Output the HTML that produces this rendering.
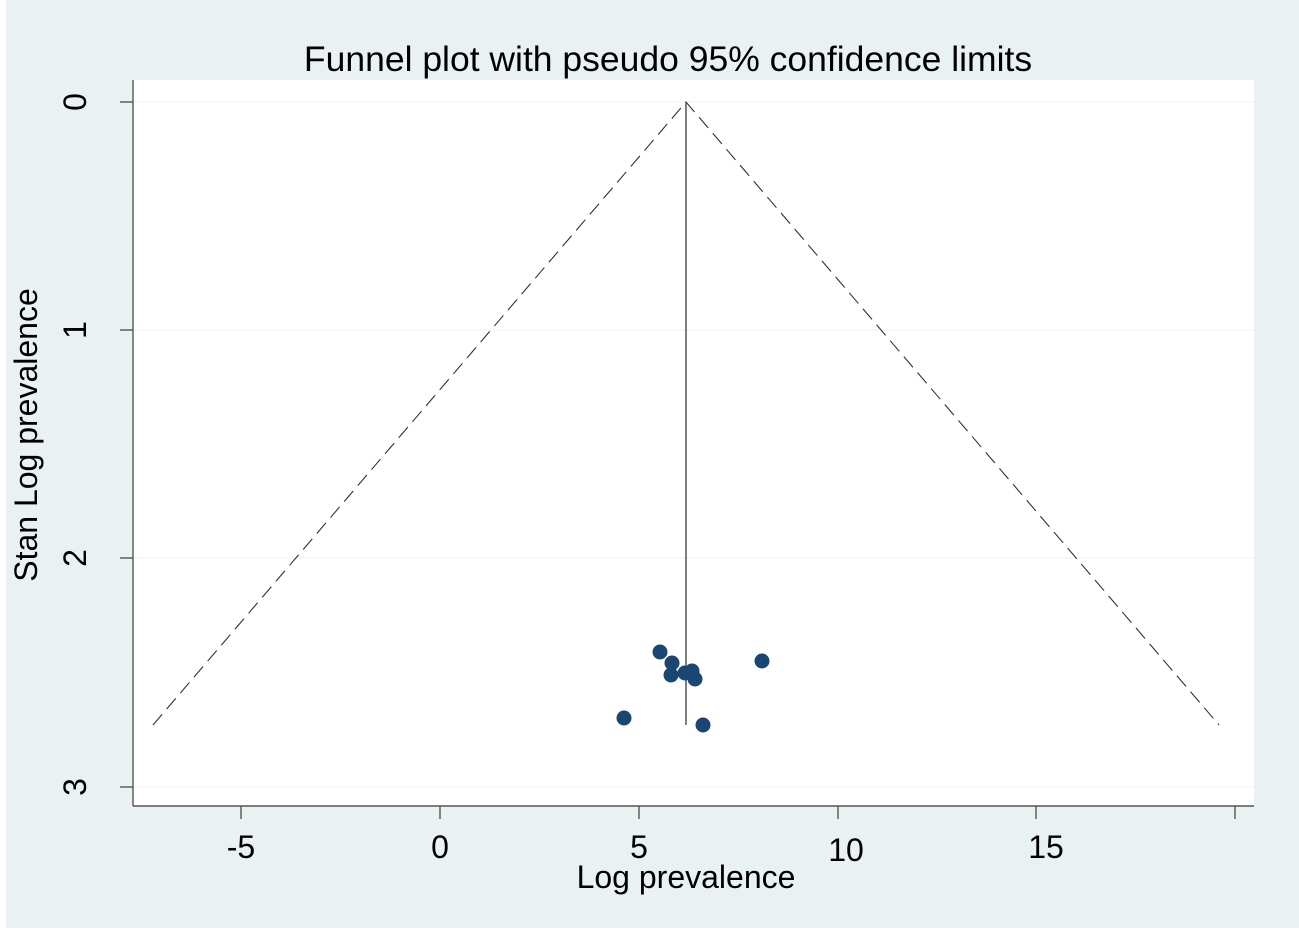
<!DOCTYPE html>
<html><head><style>body{margin:0;background:#fff}</style></head><body>
<svg width="1299" height="930" xmlns="http://www.w3.org/2000/svg" font-family="Liberation Sans, sans-serif">
<rect x="6" y="0" width="1293" height="928" fill="#eaf1f3"/>
<rect x="133" y="80" width="1121" height="726" fill="#fff"/>
<g stroke="#eef3f5" stroke-width="1">
<line x1="133" y1="102" x2="1254" y2="102"/><line x1="133" y1="330" x2="1254" y2="330"/>
<line x1="133" y1="558" x2="1254" y2="558"/><line x1="133" y1="787" x2="1254" y2="787"/>
</g>
<g stroke="#555" stroke-width="1.4" fill="none">
<line x1="133" y1="80" x2="133" y2="806"/><line x1="133" y1="806" x2="1254" y2="806"/>
<line x1="120" y1="102" x2="133" y2="102"/><line x1="120" y1="330" x2="133" y2="330"/>
<line x1="120" y1="558" x2="133" y2="558"/><line x1="120" y1="787" x2="133" y2="787"/>
<line x1="241" y1="806" x2="241" y2="819"/><line x1="440" y1="806" x2="440" y2="819"/>
<line x1="639" y1="806" x2="639" y2="819"/><line x1="838" y1="806" x2="838" y2="819"/>
<line x1="1036" y1="806" x2="1036" y2="819"/><line x1="1235" y1="806" x2="1235" y2="819"/>
</g>
<polyline points="153,725 686,102 1219,725" fill="none" stroke="#333" stroke-width="1.1" stroke-dasharray="14,7"/>
<line x1="686" y1="102" x2="686" y2="725" stroke="#555" stroke-width="1.5"/>
<g fill="#1a4674">
<circle cx="660" cy="652" r="7.5"/><circle cx="672" cy="663" r="7.5"/><circle cx="671" cy="675" r="7.5"/>
<circle cx="685" cy="673" r="7.5"/><circle cx="692" cy="671" r="7.5"/><circle cx="695" cy="679" r="7.5"/>
<circle cx="762" cy="661" r="7.5"/><circle cx="624" cy="718" r="7.5"/><circle cx="703" cy="725" r="7.5"/>
</g>
<g font-size="32" fill="#000" text-anchor="middle">
<text x="668" y="71" font-size="35.5">Funnel plot with pseudo 95% confidence limits</text>
<text x="241" y="858">-5</text><text x="440" y="858">0</text><text x="639" y="858">5</text>
<text x="846" y="861">10</text><text x="1046" y="858">15</text>
<text x="686" y="888">Log prevalence</text>
<text transform="translate(86,102) rotate(-90)">0</text>
<text transform="translate(86,330) rotate(-90)">1</text>
<text transform="translate(86,558) rotate(-90)">2</text>
<text transform="translate(86,787) rotate(-90)">3</text>
<text transform="translate(37,435) rotate(-90)">Stan Log prevalence</text>
</g>
</svg>
</body></html>
